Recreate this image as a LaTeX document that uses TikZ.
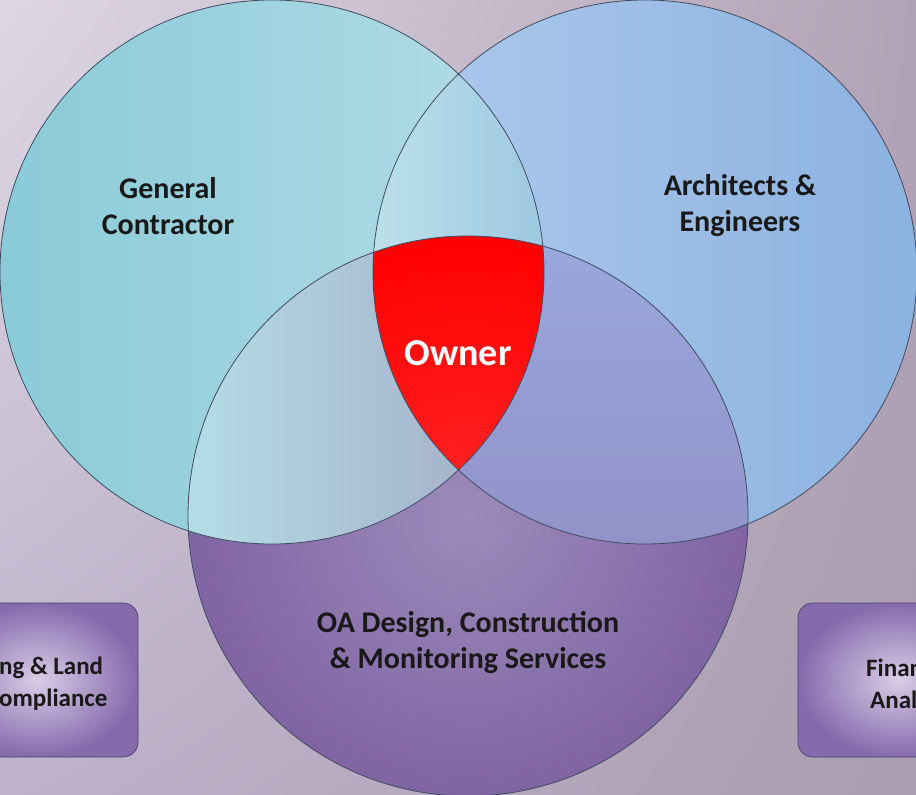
\documentclass[tikz,border=0pt]{standalone}
\usepackage{fontspec}
\setmainfont{Carlito}
\usetikzlibrary{shadings}

% background and ring colours
\definecolor{bgtl}{HTML}{DDD7E3}
\definecolor{bgtr}{HTML}{B2A2B5}
\definecolor{bgbl}{HTML}{BDB2CA}
\definecolor{bgbr}{HTML}{A99DB0}
\definecolor{gcdark}{HTML}{8ACAD8}
\definecolor{gclight}{HTML}{B4DDE7}
\definecolor{aedark}{HTML}{8CB2E0}
\definecolor{aelight}{HTML}{AECAEC}
\definecolor{oadark}{HTML}{8064A3}
\definecolor{oalight}{HTML}{9C8BBA}
\definecolor{aeoatop}{HTML}{9AA8DC}
\definecolor{aeoabot}{HTML}{8A80B8}
\definecolor{gcaeblue}{HTML}{5F93D2}
\definecolor{ringline}{HTML}{3F4C60}
\definecolor{boxdark}{HTML}{856AAC}
\definecolor{boxlight}{HTML}{D8CDE6}

\tikzset{
  venn/.style={draw=ringline, line width=0.8pt},
  ringtext/.style={font=\bfseries\fontsize{30}{36}\selectfont, align=center, text=black!90},
  sidebox/.style={draw=ringline!80!violet, line width=0.7pt, rounded corners=15pt,
    inner color=boxlight, outer color=boxdark},
  sidetext/.style={font=\bfseries\fontsize{25}{32}\selectfont, align=left, text=black!90},
}

\def\rgc{272}
\def\roa{280}

\begin{document}
\begin{tikzpicture}[x=1pt,y=-1pt]
  \clip (0,0) rectangle (916,795);
  \useasboundingbox (0,0) rectangle (916,795);
  \shade[upper left=bgtl, upper right=bgtr, lower left=bgbl, lower right=bgbr]
    (0,0) rectangle (916,795);

  \coordinate (gc) at (272,272);
  \coordinate (ae) at (645,272);
  \coordinate (oa) at (468,516);

  % the three rings
  \shade[left color=gcdark, right color=gclight] (gc) circle[radius=\rgc];
  \shade[left color=aelight, right color=aedark] (ae) circle[radius=\rgc];
  \shade[inner color=oalight, outer color=oadark] (oa) circle[radius=\roa];

  % overlaps
  \begin{scope}
    \clip (gc) circle[radius=\rgc];
    \shade[left color=gclight!90!white, right color=gcaeblue] (ae) circle[radius=\rgc];
  \end{scope}
  \begin{scope}
    \clip (gc) circle[radius=\rgc];
    \shade[left color=gclight, right color=oalight!80!gray] (oa) circle[radius=\roa];
  \end{scope}
  \begin{scope}
    \clip (ae) circle[radius=\rgc];
    \shade[top color=aeoatop, bottom color=aeoabot] (oa) circle[radius=\roa];
  \end{scope}
  \begin{scope}
    \clip (gc) circle[radius=\rgc];
    \clip (ae) circle[radius=\rgc];
    \shade[inner color=red!85!white, outer color=red] (oa) circle[radius=\roa];
  \end{scope}

  \draw[venn] (gc) circle[radius=\rgc];
  \draw[venn] (ae) circle[radius=\rgc];
  \draw[venn] (oa) circle[radius=\roa];

  % side boxes, both run off the page
  \path[sidebox] (-62,603) rectangle (138,757);
  \path[sidebox] (798,603) rectangle (998,757);

  \node[ringtext] (gclabel) at (168,206) {General\\Contractor};
  \node[ringtext] (aelabel) at (740,206) {Architects \&\\Engineers};
  \node[ringtext] (oalabel) at (468,642) {OA Design, Construction\\\& Monitoring Services};
  \node[font=\bfseries\fontsize{38}{44}\selectfont, text=white] (owner) at (458,353) {Owner};
  \node[sidetext, anchor=west, inner sep=0pt] (zoning) at (-1,684) {ng \& Land\\ompliance};
  \node[sidetext, anchor=west, inner sep=0pt] (finance) at (866,684) {Finan\\\hspace*{4pt}Anal};
\end{tikzpicture}
\end{document}
